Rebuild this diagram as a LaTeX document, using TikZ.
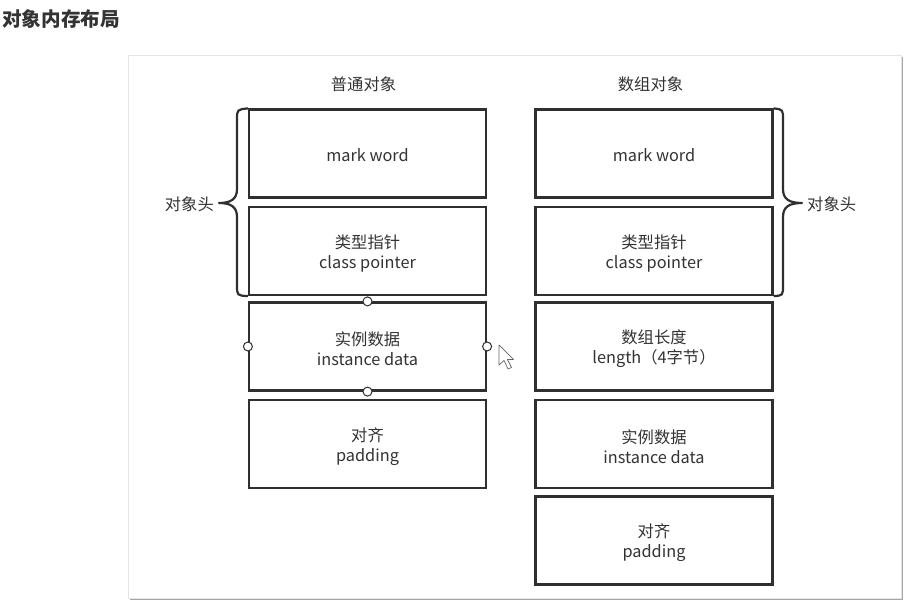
\documentclass[tikz,border=0pt]{standalone}
\usepackage{fontspec}
\setmainfont{Noto Sans CJK SC}
\definecolor{ink}{HTML}{333333}
\definecolor{frame}{HTML}{2F2F2F}
\begin{document}
\begin{tikzpicture}[x=1pt,y=-1pt,
  box/.style={draw=frame,line width=2.2pt,minimum width=237pt,minimum height=88pt,inner sep=0pt},
  lbl/.style={text=ink,font=\fontsize{16.3}{20}\selectfont,inner sep=0pt},
  txt/.style={lbl,align=center},
  brace/.style={draw=frame,line width=2.2pt,line join=round},
  handle/.style={circle,draw=frame,fill=white,line width=1pt,minimum size=9pt,inner sep=0pt}]
\useasboundingbox (0,0) rectangle (909,604);
\fill[white] (0,0) rectangle (909,604);
% title
\node[anchor=west,text=ink,font=\fontsize{19.6}{22}\selectfont\bfseries,inner sep=0pt] (title) at (2,19) {对象内存布局};
% panel
\draw[gray!70,line width=1.5pt] (130,599) -- (902,599) -- (902,57);
\draw[gray!20,fill=white,line width=0.8pt] (128,55) rectangle (901,598);
% headings
\node[lbl] (h1) at (363.5,84) {普通对象};
\node[lbl] (h2) at (650.5,84) {数组对象};
% left column
\node[box] (lmw) at (367.5,153.5) {};
\node[box] (lcp) at (367.5,251) {};
\node[box] (lid) at (367.5,346.5) {};
\node[box] (lpd) at (367.5,444) {};
% right column
\node[box] (rmw) at (654,153.5) {};
\node[box] (rcp) at (654,251) {};
\node[box] (rln) at (654,346.5) {};
\node[box] (rid) at (654,444) {};
\node[box] (rpd) at (654,540.5) {};
% texts
\path (lmw.center) ++(0,2) node[txt] (tlmw) {mark word};
\path (lcp.center) ++(0,2.5) node[txt] (tlcp) {类型指针\\class pointer};
\path (lid.center) ++(0,2.5) node[txt] (tlid) {实例数据\\instance data};
\path (lpd.center) ++(0,2.5) node[txt] (tlpd) {对齐\\padding};
\path (rmw.center) ++(0,2) node[txt] (trmw) {mark word};
\path (rcp.center) ++(0,2.5) node[txt] (trcp) {类型指针\\class pointer};
\path (rln.center) ++(0,2.5) node[txt] (trln) {数组长度\\length（4字节）};
\path (rid.center) ++(0,2.5) node[txt] (trid) {实例数据\\instance data};
\path (rpd.center) ++(0,2.5) node[txt] (trpd) {对齐\\padding};
% braces
\coordinate (lt) at (219,203);
\coordinate (rt) at (802,203);
\draw[brace] (lmw.north west) .. controls (237,109.5) .. (237,120) -- (237,189)
  .. controls (237,199) and (231,203) .. (lt)
  .. controls (231,203) and (237,207) .. (237,217) -- (237,285)
  .. controls (237,295.5) .. (lcp.south west);
\draw[brace] (rmw.north east) .. controls (783,109.5) .. (783,120) -- (783,189)
  .. controls (783,199) and (789,203) .. (rt)
  .. controls (789,203) and (783,207) .. (783,217) -- (783,285)
  .. controls (783,295.5) .. (rcp.south east);
\node[lbl,anchor=east] (l1) at (214,204) {对象头};
\node[lbl,anchor=west] (r1) at (807,204) {对象头};
% selection handles
\node[handle] (hn) at (lid.north) {};
\node[handle] (hs) at (lid.south) {};
\node[handle] (hw) at (lid.west) {};
\node[handle] (he) at (lid.east) {};
% cursor
\draw[gray!80!black,fill=white,line width=0.7pt,line join=round]
  (499,345) -- (499,365) -- (504,360.5) -- (508,369) -- (511.5,367.5) -- (507.5,359.5) -- (513.5,359.5) -- cycle;
\end{tikzpicture}
\end{document}
